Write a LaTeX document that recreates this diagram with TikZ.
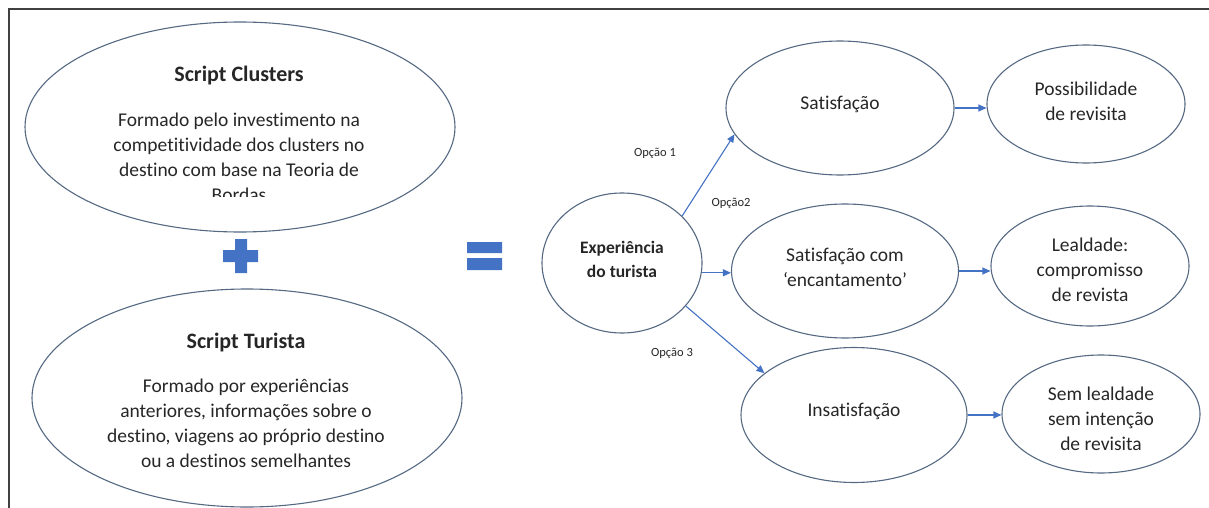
\documentclass[tikz,border=0pt]{standalone}
\usepackage{fontspec}
\setmainfont{Carlito}[Ligatures=NoCommon]
\usetikzlibrary{shapes.geometric,arrows.meta}
\definecolor{ovalline}{RGB}{85,105,130}
\definecolor{arrowblue}{RGB}{68,114,196}
\definecolor{txtgray}{RGB}{38,38,38}
\definecolor{framegray}{RGB}{64,64,64}

\begin{document}
\begin{tikzpicture}[
        x=1pt, y=-1pt,
        >={Triangle[length=8pt,width=7pt]},
        oval/.style={ellipse, draw=ovalline, line width=1.1pt, inner sep=0pt},
        txt/.style={align=center, text=txtgray, font=\fontsize{19.5}{25}\selectfont},
        head/.style={align=center, text=txtgray, font=\bfseries\fontsize{22}{26}\selectfont},
        small/.style={align=center, text=txtgray, font=\bfseries\fontsize{17.5}{24}\selectfont},
        opt/.style={text=txtgray, font=\fontsize{12.5}{15}\selectfont},
        link/.style={->, draw=arrowblue, line width=1.1pt}
        ]
        \useasboundingbox (0,0) rectangle (1209,508);
        \draw[framegray, line width=2pt] (9,508) -- (9,9) -- (1209,9);

        % left side
        \node[oval, minimum width=430, minimum height=210] (sc) at (240,127) {};
        \node[oval, minimum width=430, minimum height=218] (st) at (247,398) {};
        \node[head] (sctitle) at (239,76) {Script Clusters};
        \begin{scope}
            \clip (0,0) rectangle (1209,196);
            \node[txt] (scbody) at (239,157) {Formado pelo investimento na\\competitividade dos clusters no\\destino com base na Teoria de\\Bordas};
        \end{scope}
        \node[head] (sttitle) at (246,343) {Script Turista};
        \node[txt] (stbody) at (246,423) {Formado por experiências\\anteriores, informações sobre o\\destino, viagens ao próprio destino\\ou a destinos semelhantes};

        \fill[arrowblue] (223,250) rectangle (258,262) (235,239) rectangle (247,273);
        \fill[arrowblue] (467,242) rectangle (502,253) (467,258) rectangle (502,270);

        % right side
        \node[oval, minimum width=160, minimum height=140] (exp) at (622,263) {};
        \node[small] (exptxt) at (622,259) {Experiência\\do turista};

        \node[oval, minimum width=228, minimum height=134] (sat) at (840,108) {};
        \node[oval, minimum width=198, minimum height=118] (pos) at (1086,104) {};
        \node[oval, minimum width=227, minimum height=134] (enc) at (845,271) {};
        \node[oval, minimum width=198, minimum height=120] (leal) at (1090,266) {};
        \node[oval, minimum width=226, minimum height=135] (ins) at (854,415) {};
        \node[oval, minimum width=198, minimum height=118] (sem) at (1101,414) {};

        \node[txt] (sattxt) at (840,104) {Satisfação};
        \node[txt] (postxt) at (1086,101) {Possibilidade\\de revisita};
        \node[txt] (enctxt) at (845,267) {Satisfação com\\‘encantamento’};
        \node[txt] (lealtxt) at (1090,270) {Lealdade:\\compromisso\\de revista};
        \node[txt] (instxt) at (854,411) {Insatisfação};
        \node[txt] (semtxt) at (1101,419) {Sem lealdade\\sem intenção\\de revisita};

        \node[opt] (op1) at (655,153) {Opção 1};
        \node[opt] (op2) at (731,203) {Opção2};
        \node[opt] (op3) at (672,353) {Opção 3};

        \path
              (exp.38) edge[link] (sat.194)
              (exp.-34) edge[link] (ins.155);
        \draw[link] (exp.-7) -- (exp.-7 -| enc.west);
        \draw[link] (sat.east) -- (sat.east -| pos.west);
        \draw[link] (enc.east) -- (enc.east -| leal.west);
        \draw[link] (ins.east) -- (ins.east -| sem.west);
\end{tikzpicture}
\end{document}
